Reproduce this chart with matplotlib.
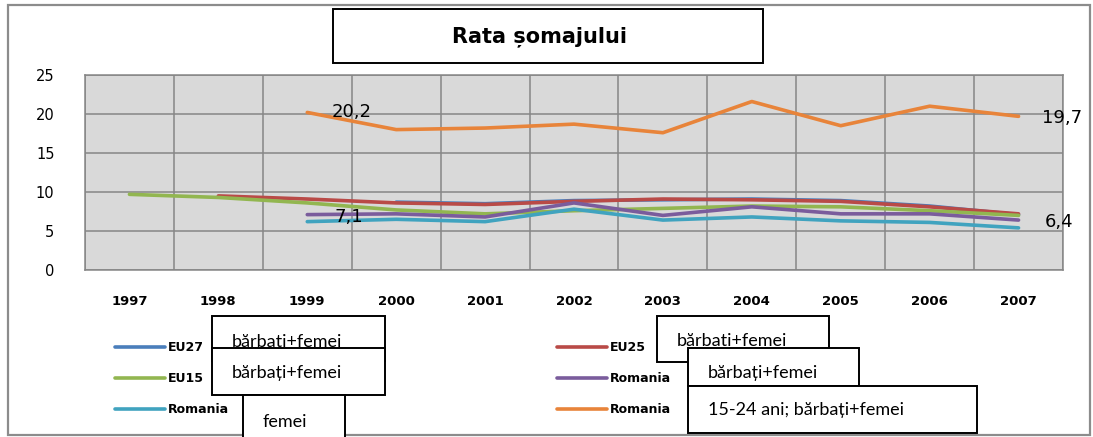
import numpy as np
import matplotlib
matplotlib.use('Agg')
import matplotlib.pyplot as plt
from matplotlib.patches import Rectangle

# Data
years = ['1997', '1998', '1999', '2000', '2001', '2002', '2003', '2004', '2005', '2006', '2007']
nan = np.nan
eu27 = [nan, nan, nan, 8.7, 8.5, 8.9, 9.0, 9.1, 8.9, 8.2, 7.1]
eu25 = [nan, 9.5, 9.1, 8.6, 8.4, 8.8, 9.1, 9.0, 8.8, 8.1, 7.2]
eu15 = [9.7, 9.3, 8.6, 7.7, 7.2, 7.6, 7.9, 8.2, 8.1, 7.6, 7.0]
romania = [nan, nan, 7.1, 7.2, 6.8, 8.6, 7.0, 8.1, 7.2, 7.2, 6.4]
romania_f = [nan, nan, 6.2, 6.5, 6.2, 7.8, 6.4, 6.8, 6.3, 6.1, 5.4]
romania_y = [nan, nan, 20.2, 18.0, 18.2, 18.7, 17.6, 21.6, 18.5, 21.0, 19.7]

W, H = 1093, 437


def fx(x):
    return x / W


def fy(y):
    return 1 - y / H


fig = plt.figure(figsize=(W / 100, H / 100), dpi=100)
ax = fig.add_axes([fx(85), fy(270), fx(1063) - fx(85), fy(75) - fy(270)])
ax.set_facecolor('#d9d9d9')

x = np.arange(len(years))
series = [
    ('EU27', eu27, '#4a7ebb'),
    ('EU25', eu25, '#b94a47'),
    ('EU15', eu15, '#92b650'),
    ('Romania', romania, '#7a5c9c'),
    ('Romania', romania_f, '#40a3bf'),
    ('Romania', romania_y, '#e8843a'),
]
lines = []
for name, vals, col in series:
    ln, = ax.plot(x, np.array(vals, dtype=float), color=col, lw=2.6,
                  solid_capstyle='round', label=name, zorder=3)
    lines.append(ln)

# Axes, grid
ax.set_xlim(-0.5, len(years) - 0.5)
ax.set_ylim(0, 25)
ax.set_yticks(range(0, 26, 5))
ax.set_xticks(x)
ax.set_xticklabels(years, fontsize=9.5, fontweight='bold')
ax.set_xticks(np.arange(-0.5, len(years), 1), minor=True)
ax.tick_params(axis='both', which='both', length=0)
ax.tick_params(axis='x', pad=18)
ax.tick_params(axis='y', pad=22, labelsize=10.5)
ax.grid(True, axis='y', color='#868686', lw=1.1)
ax.grid(True, axis='x', which='minor', color='#868686', lw=1.1)
ax.set_axisbelow(True)
for s in ax.spines.values():
    s.set_color('#868686')
    s.set_linewidth(1.1)

# Data labels
ann = [(2, romania_y[2], 32, 0), (2, romania[2], 30, -1.5),
       (10, romania_y[10], 31, -1), (10, romania[10], 29, -1.5)]
for xi, v, dx, dy in ann:
    ax.annotate(f'{v:.1f}'.replace('.', ','), (xi, v), xytext=(dx, dy),
                textcoords='offset points', ha='center', va='center',
                fontsize=13, zorder=5)

# Legends (two columns)
order_left = [0, 2, 4]
order_right = [1, 3, 5]
leg_kw = dict(frameon=False, prop={'weight': 'bold', 'size': 9},
              handlelength=4.0, handletextpad=0.25, labelspacing=1.45,
              borderpad=0, borderaxespad=0, loc='upper left')
leg1 = fig.legend([lines[i] for i in order_left], [lines[i].get_label() for i in order_left],
                  bbox_to_anchor=(fx(115), fy(341)), **leg_kw)
leg2 = fig.legend([lines[i] for i in order_right], [lines[i].get_label() for i in order_right],
                  bbox_to_anchor=(fx(557), fy(341)), **leg_kw)

# Outer chart border
fig.patches.append(Rectangle((fx(8), fy(435)), fx(1090) - fx(8), fy(5) - fy(435),
                             transform=fig.transFigure, fill=False,
                             edgecolor='#8c8c8c', lw=1.6, zorder=0))

# Title box
fig.patches.append(Rectangle((fx(333), fy(63)), fx(763) - fx(333), fy(9) - fy(63),
                             transform=fig.transFigure, facecolor='white',
                             edgecolor='black', lw=1.4, zorder=6))
fig.text(fx(540), fy(37), 'Rata șomajului', ha='center', va='center',
         fontsize=15, fontweight='bold', zorder=7)

# Overlaid text boxes
boxes = [
    (212, 316, 385, 361, 'bărbati+femei', 342),
    (212, 348, 385, 395, 'bărbați+femei', 373),
    (243, 395, 345, 445, 'femei', 422),
    (657, 316, 829, 362, 'bărbati+femei', 341),
    (688, 348, 859, 386, 'bărbați+femei', 373),
    (688, 386, 977, 433, '15-24 ani; bărbați+femei', 410),
]
for k, (x0, y0, x1, y1, txt, ty) in enumerate(boxes):
    z = 10 + 2 * k
    fig.patches.append(Rectangle((fx(x0), fy(y1)), fx(x1) - fx(x0), fy(y0) - fy(y1),
                                 transform=fig.transFigure, facecolor='white',
                                 edgecolor='black', lw=1.4, zorder=z))
    fig.text(fx(x0 + 20), fy(ty), txt, ha='left', va='center', family='Lato',
             fontsize=13, zorder=z + 1)

fig.savefig('out.png', dpi=100, facecolor='white')
